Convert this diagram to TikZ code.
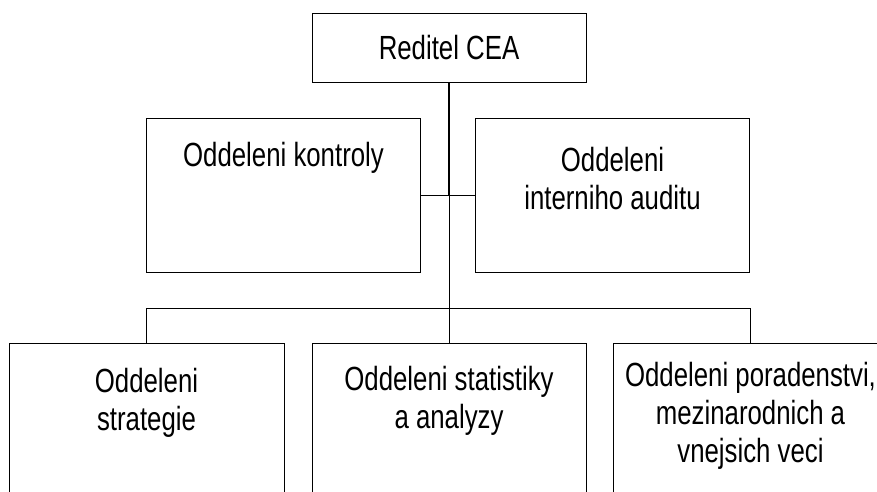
\documentclass[tikz,border=0pt]{standalone}
\usepackage{fontspec}
\setmainfont{Liberation Sans}[FakeStretch=0.77]
\usetikzlibrary{positioning}

\tikzset{
    unit/.style={draw, rectangle, inner sep=0pt, minimum width=274pt, line width=1pt},
    caption/.style={inner sep=0pt, align=center, font=\fontsize{33.5}{38}\selectfont},
}

\begin{document}
\begin{tikzpicture}[x=1pt, y=-1pt, line width=1pt]
    \clip (0,0) rectangle (877,491);

    \node[unit, minimum height=69pt, font=\fontsize{33.5}{38}\selectfont] (reditel) at (449,47.5) {Reditel CEA};

    \node[unit, minimum height=154pt] (kontrola) at (283.5,195) {};
    \node[unit, minimum height=154pt] (audit) at (612.5,195) {};

    \node[unit, minimum width=275pt, minimum height=177pt] (strategie) at (146.5,431.5) {};
    \node[unit, minimum height=177pt] (statistika) at (449,431.5) {};
    \node[unit, minimum width=275pt, minimum height=177pt] (poradenstvi) at (750.5,431.5) {};

    \node[caption, anchor=north, below=24.5pt of kontrola.north] (kontrolaText) {Oddeleni kontroly};
    \node[caption, anchor=north, below=29pt of audit.north] (auditText) {Oddeleni\\interniho auditu};
    \node[caption, anchor=north, below=25pt of strategie.north] (strategieText) {Oddeleni\\strategie};
    \node[caption, anchor=north, below=23pt of statistika.north] (statistikaText) {Oddeleni statistiky\\a analyzy};
    \node[caption, anchor=north, below=19pt of poradenstvi.north] (poradenstviText) {Oddeleni poradenstvi,\\mezinarodnich a\\vnejsich veci};

    \coordinate (junction) at (reditel.south |- kontrola.east);
    \coordinate (bus) at (449,308);

    \draw[-, line width=1.6pt] (reditel.south) -- (junction);
    \draw[-] (junction) -- (statistika.north);
    \draw[-] (kontrola.east) -- (audit.west);

    \draw[-] (strategie.north) -- (strategie.north |- bus);
    \draw[-] (strategie.north |- bus) -- (poradenstvi.north |- bus);
    \draw[-] (poradenstvi.north |- bus) -- (poradenstvi.north);
\end{tikzpicture}
\end{document}
